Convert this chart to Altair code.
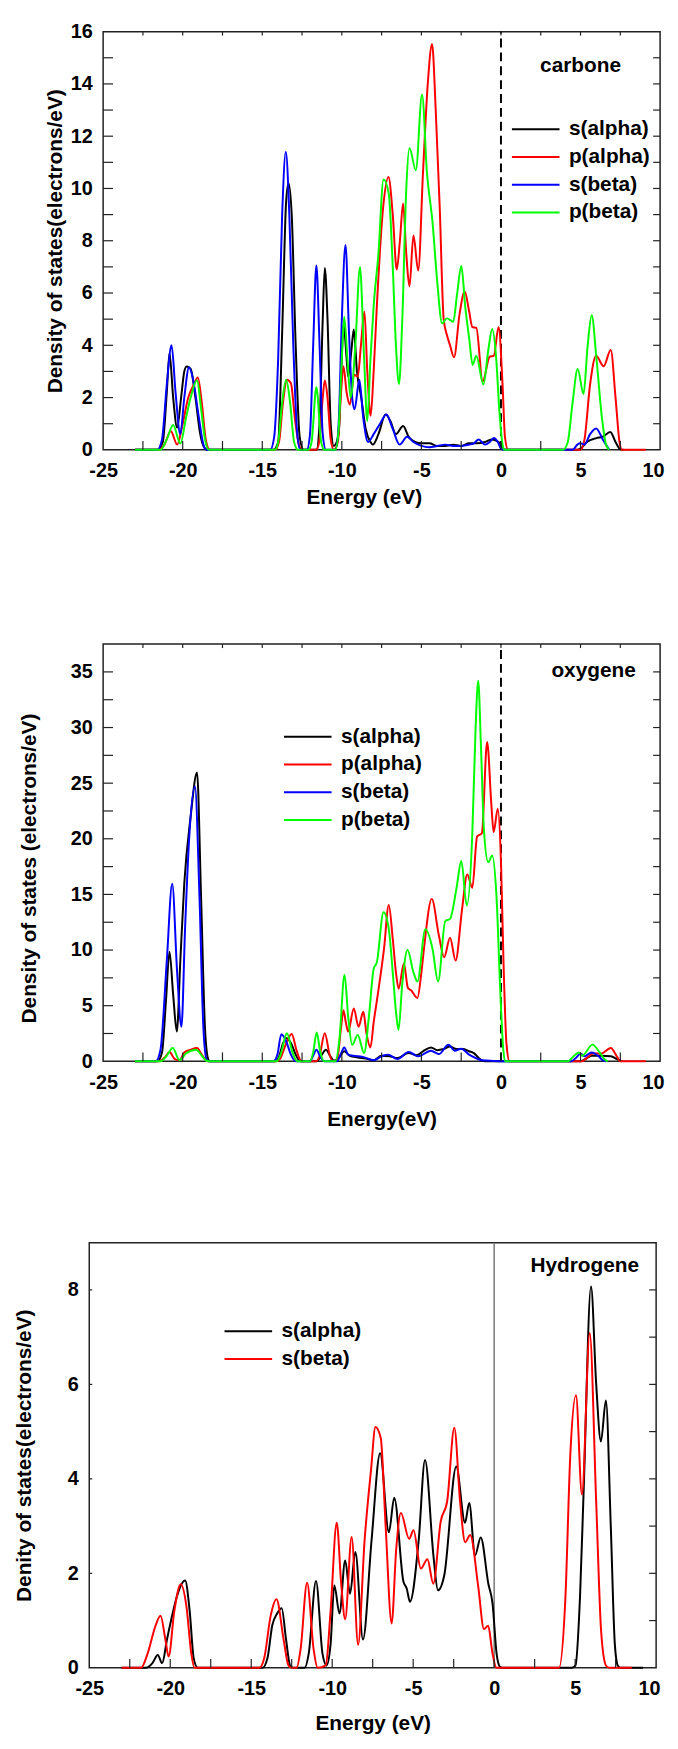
import altair as alt
import pandas as pd

# ---------------- data ----------------
X_LABELS = [-25, -20, -15, -10, -5, 0, 5, 10]
X_TICKS = [-22.5, -20, -17.5, -15, -12.5, -10, -7.5, -5, -2.5, 0, 2.5, 5, 7.5]

C_NAMES = ["s(alpha)", "p(alpha)", "s(beta)", "p(beta)"]
C_COLORS = ["#000000", "#ff0000", "#0000ff", "#00ff00"]
C_YLABELS = [0, 2, 4, 6, 8, 10, 12, 14, 16]
C_YTICKS = [1, 2, 3, 4, 5, 6, 7, 8, 9, 10, 11, 12, 13, 14, 15]

O_YLABELS = [0, 5, 10, 15, 20, 25, 30, 35]
O_YTICKS = [2.5, 5, 7.5, 10, 12.5, 15, 17.5, 20, 22.5, 25, 27.5, 30, 32.5, 35]

H_NAMES = ["s(alpha)", "s(beta)"]
H_COLORS = ["#000000", "#ff0000"]
H_YLABELS = [0, 2, 4, 6, 8]
H_YTICKS_RIGHT = [1, 2, 3, 4, 5, 6, 7, 8]
H_YTICKS_LEFT = [2, 4, 6, 8]

# carbone
C_S_ALPHA = [(-23, 0), (-21.6, 0), (-21.25, 0.3), (-21.0, 2.2), (-20.83, 3.7), (-20.6, 2.0), (-20.35, 0.85),
             (-20.1, 2.0), (-19.9, 3.0), (-19.75, 3.19), (-19.5, 3.1), (-19.2, 2.0), (-18.9, 0.6), (-18.6, 0.05),
             (-18.4, 0), (-14.3, 0), (-14.0, 0.3), (-13.75, 4.5), (-13.5, 9.5), (-13.35, 10.2), (-13.15, 9.0),
             (-12.9, 4.0), (-12.65, 0.5), (-12.4, 0), (-11.6, 0), (-11.4, 1.0), (-11.2, 5.0), (-11.07, 6.96),
             (-10.9, 5.0), (-10.7, 1.0), (-10.5, 0.15), (-10.2, 0.6), (-10.05, 2.8), (-9.89, 4.8), (-9.7, 3.5),
             (-9.6, 2.8), (-9.4, 3.8), (-9.25, 4.6), (-9.05, 3.0), (-8.78, 2.0), (-8.5, 0.8), (-8.2, 0.3),
             (-8.05, 0.2), (-7.7, 0.6), (-7.25, 1.35), (-6.95, 1.1), (-6.6, 0.6), (-6.15, 0.91), (-5.8, 0.5),
             (-5.4, 0.3), (-5.0, 0.25), (-4.5, 0.25), (-4.0, 0.15), (-3.5, 0.15), (-3.0, 0.2), (-2.5, 0.15),
             (-2.0, 0.25), (-1.5, 0.25), (-1.0, 0.3), (-0.6, 0.4), (-0.3, 0.35), (0.0, 0.2), (0.2, 0.02),
             (0.4, 0), (4.8, 0), (5.0, 0.05), (5.4, 0.3), (6.0, 0.45), (6.4, 0.5), (6.87, 0.68), (7.2, 0.3),
             (7.5, 0.02), (7.7, 0)]
C_P_ALPHA = [(-23, 0), (-21.5, 0), (-21.15, 0.2), (-20.75, 0.72), (-20.35, 0.2), (-20.0, 1.0), (-19.65, 2.0),
             (-19.3, 2.5), (-19.05, 2.77), (-18.8, 1.8), (-18.55, 0.4), (-18.3, 0), (-14.2, 0), (-13.95, 0.3),
             (-13.7, 1.8), (-13.45, 2.68), (-13.2, 2.55), (-12.95, 1.2), (-12.7, 0.2), (-12.5, 0), (-11.6, 0),
             (-11.4, 0.4), (-11.2, 2.0), (-11.07, 2.65), (-10.9, 2.0), (-10.7, 0.4), (-10.5, 0), (-10.25, 0.3),
             (-10.05, 2.2), (-9.9, 3.2), (-9.7, 2.2), (-9.5, 1.73), (-9.22, 2.87), (-9.0, 2.8), (-8.8, 4.0),
             (-8.58, 5.28), (-8.4, 3.0), (-8.19, 1.3), (-8.0, 3.0), (-7.8, 5.5), (-7.4, 9.3), (-7.07, 10.44),
             (-6.8, 9.0), (-6.55, 6.9), (-6.35, 8.0), (-6.15, 9.43), (-5.95, 7.5), (-5.75, 6.25), (-5.5, 8.2),
             (-5.2, 6.86), (-4.9, 10.6), (-4.6, 14.0), (-4.33, 15.53), (-4.1, 13.0), (-3.85, 9.3), (-3.6, 5.0),
             (-3.4, 4.4), (-3.2, 4.0), (-2.95, 3.54), (-2.6, 5.2), (-2.28, 6.06), (-2.0, 5.3), (-1.8, 4.7),
             (-1.55, 4.67), (-1.15, 2.62), (-0.7, 3.57), (-0.45, 3.6), (-0.15, 4.7), (0.1, 2.5), (0.25, 0.5),
             (0.45, 0), (5.0, 0), (5.25, 0.4), (5.6, 2.5), (5.98, 3.6), (6.45, 3.2), (6.9, 3.82), (7.2, 2.0),
             (7.45, 0.3), (7.6, 0), (9.1, 0)]
C_S_BETA = [(-23, 0), (-21.6, 0), (-21.3, 0.4), (-21.0, 2.5), (-20.7, 4.0), (-20.45, 2.2), (-20.15, 0.6),
            (-19.9, 2.0), (-19.6, 3.16), (-19.35, 2.7), (-19.0, 1.3), (-18.7, 0.2), (-18.5, 0), (-14.5, 0),
            (-14.25, 0.5), (-14.0, 3.5), (-13.75, 9.0), (-13.52, 11.4), (-13.3, 9.0), (-13.05, 4.0), (-12.8, 0.6),
            (-12.6, 0), (-12.2, 0), (-12.0, 0.6), (-11.8, 4.0), (-11.6, 7.05), (-11.4, 4.0), (-11.2, 0.6),
            (-11.0, 0), (-10.4, 0), (-10.2, 1.0), (-10.0, 5.0), (-9.77, 7.84), (-9.55, 4.5), (-9.35, 2.0),
            (-9.2, 1.55), (-8.9, 2.68), (-8.65, 1.2), (-8.35, 0.3), (-8.0, 0.6), (-7.6, 1.0), (-7.2, 1.35),
            (-6.8, 0.8), (-6.37, 0.2), (-5.9, 0.5), (-5.5, 0.3), (-5.0, 0.15), (-4.5, 0.1), (-4.0, 0.15),
            (-3.5, 0.2), (-3.0, 0.15), (-2.5, 0.15), (-2.0, 0.2), (-1.7, 0.25), (-1.4, 0.4), (-1.0, 0.2),
            (-0.7, 0.3), (-0.45, 0.45), (-0.2, 0.3), (0.0, 0.05), (0.15, 0), (4.5, 0), (4.8, 0.2), (5.0, 0.25),
            (5.25, 0.2), (5.6, 0.6), (5.98, 0.82), (6.4, 0.4), (6.8, 0)]
C_P_BETA = [(-23, 0), (-21.4, 0), (-21.0, 0.4), (-20.6, 0.95), (-20.15, 0.24), (-19.8, 1.2), (-19.5, 2.0),
            (-19.1, 2.66), (-18.85, 1.6), (-18.6, 0.4), (-18.35, 0), (-14.2, 0), (-14.0, 0.3), (-13.75, 1.8),
            (-13.5, 2.68), (-13.25, 1.8), (-13.0, 0.3), (-12.75, 0), (-12.1, 0), (-11.9, 0.3), (-11.6, 2.4),
            (-11.3, 0.3), (-11.1, 0), (-10.4, 0), (-10.2, 0.8), (-10.0, 3.5), (-9.85, 5.09), (-9.65, 3.5),
            (-9.45, 2.0), (-9.15, 4.0), (-8.86, 6.99), (-8.6, 3.5), (-8.4, 1.1), (-8.2, 3.5), (-8.0, 5.5),
            (-7.7, 7.5), (-7.38, 10.34), (-7.05, 9.8), (-6.8, 7.0), (-6.6, 4.0), (-6.41, 2.52), (-6.2, 5.0),
            (-5.95, 10.0), (-5.75, 11.55), (-5.35, 10.7), (-4.96, 13.6), (-4.65, 10.6), (-4.3, 8.7),
            (-4.0, 6.4), (-3.7, 4.84), (-3.4, 5.03), (-3.0, 4.9), (-2.75, 6.0), (-2.49, 7.03), (-2.25, 5.5),
            (-2.0, 4.27), (-1.78, 3.25), (-1.55, 3.6), (-1.1, 2.5), (-0.8, 3.8), (-0.55, 4.62), (-0.3, 3.5),
            (-0.1, 1.5), (0.1, 0.2), (0.2, 0), (3.9, 0), (4.2, 0.3), (4.5, 1.8), (4.82, 3.09), (5.19, 2.14),
            (5.45, 4.0), (5.7, 5.15), (6.0, 3.5), (6.35, 1.2), (6.6, 0.2), (6.8, 0)]

# oxygene
O_S_ALPHA = [(-23, 0), (-21.6, 0), (-21.3, 0.8), (-21.05, 5.5), (-20.83, 9.85), (-20.6, 6.0), (-20.37, 2.67),
             (-20.15, 9.0), (-19.9, 16.0), (-19.5, 22.0), (-19.1, 25.96), (-18.85, 15.0), (-18.6, 3.0),
             (-18.4, 0.2), (-18.3, 0), (-14.2, 0), (-13.95, 0.4), (-13.7, 1.6), (-13.45, 2.08), (-13.15, 1.5),
             (-12.9, 0.6), (-12.6, 0), (-11.6, 0), (-11.3, 0.5), (-11.0, 1.04), (-10.7, 0.4), (-10.5, 0.05),
             (-10.2, 0.3), (-9.85, 0.9), (-9.5, 0.5), (-9.0, 0.35), (-8.5, 0.25), (-8.0, 0.1), (-7.5, 0.5),
             (-7.0, 0.45), (-6.5, 0.3), (-5.8, 0.75), (-5.3, 0.55), (-4.9, 0.9), (-4.4, 1.25), (-4.0, 1.0),
             (-3.6, 1.1), (-3.2, 1.33), (-2.8, 1.1), (-2.4, 1.1), (-2.0, 0.9), (-1.7, 0.74), (-1.4, 0.3),
             (-1.1, 0.02), (-0.9, 0), (5.0, 0), (5.3, 0.2), (5.7, 0.5), (6.3, 0.5), (6.9, 0.45), (7.3, 0.2),
             (7.6, 0)]
O_P_ALPHA = [(-23, 0), (-21.5, 0), (-21.1, 0.4), (-20.83, 0.83), (-20.5, 0.2), (-20.2, 0.1), (-19.9, 0.8),
             (-19.5, 1.05), (-19.1, 1.19), (-18.8, 0.6), (-18.5, 0.05), (-18.3, 0), (-14.1, 0), (-13.85, 0.3),
             (-13.5, 1.6), (-13.15, 2.46), (-12.85, 1.0), (-12.6, 0.1), (-12.45, 0), (-11.6, 0), (-11.4, 0.5),
             (-11.07, 2.52), (-10.75, 0.5), (-10.55, 0), (-10.3, 0.2), (-10.05, 3.0), (-9.9, 4.6), (-9.75, 3.5),
             (-9.6, 2.67), (-9.25, 4.75), (-8.95, 3.11), (-8.65, 4.45), (-8.45, 2.5), (-8.2, 1.25), (-8.0, 3.5),
             (-7.75, 5.9), (-7.35, 10.1), (-7.05, 14.06), (-6.8, 11.0), (-6.6, 8.0), (-6.43, 6.53), (-6.1, 8.8),
             (-5.85, 6.6), (-5.65, 6.38), (-5.25, 5.7), (-5.0, 8.0), (-4.84, 10.1), (-4.35, 14.6), (-3.9, 11.3),
             (-3.57, 9.35), (-3.2, 11.1), (-2.85, 9.05), (-2.45, 13.6), (-2.12, 16.8), (-1.8, 15.6), (-1.5, 20.2),
             (-1.2, 20.5), (-0.87, 28.7), (-0.6, 23.0), (-0.46, 20.6), (-0.2, 22.7), (0.0, 18.0), (0.16, 8.9),
             (0.35, 1.5), (0.54, 0), (5.1, 0), (5.4, 0.3), (5.8, 0.7), (6.3, 0.7), (6.9, 1.2), (7.3, 0.4),
             (7.5, 0), (9.1, 0)]
O_S_BETA = [(-23, 0), (-21.7, 0), (-21.4, 1.0), (-21.0, 9.0), (-20.66, 15.96), (-20.35, 8.0), (-20.08, 3.1),
            (-19.85, 12.0), (-19.6, 19.9), (-19.23, 24.7), (-18.95, 15.0), (-18.7, 3.0), (-18.5, 0.2),
            (-18.35, 0), (-14.3, 0), (-14.05, 0.6), (-13.8, 2.43), (-13.5, 1.8), (-13.2, 0.6), (-12.9, 0),
            (-12.0, 0), (-11.8, 0.5), (-11.6, 1.04), (-11.35, 0.4), (-11.1, 0), (-10.3, 0), (-10.05, 0.7),
            (-9.85, 1.25), (-9.6, 0.6), (-9.3, 0.5), (-8.7, 0.4), (-8.0, 0.1), (-7.5, 0.45), (-7.1, 0.6),
            (-6.5, 0.2), (-5.8, 0.83), (-5.2, 0.45), (-4.4, 0.95), (-3.9, 0.65), (-3.3, 1.48), (-2.9, 0.95),
            (-2.5, 1.13), (-2.0, 0.6), (-1.6, 0.3), (-1.2, 0.1), (-0.5, 0.03), (0.0, 0), (4.4, 0), (4.7, 0.3),
            (5.0, 0.7), (5.25, 0.45), (5.7, 0.8), (6.1, 0.5), (6.4, 0.1), (6.6, 0)]
O_P_BETA = [(-23, 0), (-21.4, 0), (-21.0, 0.5), (-20.63, 1.19), (-20.2, 0.1), (-19.8, 0.7), (-19.15, 1.04),
            (-18.8, 0.5), (-18.5, 0.05), (-18.35, 0), (-14.1, 0), (-13.85, 0.6), (-13.45, 2.52), (-13.1, 0.8),
            (-12.8, 0), (-12.0, 0), (-11.8, 0.8), (-11.58, 2.58), (-11.35, 0.8), (-11.1, 0), (-10.4, 0),
            (-10.15, 2.0), (-9.83, 7.77), (-9.6, 4.0), (-9.35, 1.48), (-9.0, 2.37), (-8.6, 0.74), (-8.3, 4.0),
            (-8.0, 8.3), (-7.8, 8.9), (-7.38, 13.4), (-7.05, 11.9), (-6.8, 8.0), (-6.6, 4.5), (-6.44, 2.82),
            (-6.2, 7.0), (-5.87, 10.0), (-5.5, 8.0), (-5.25, 7.18), (-4.75, 11.87), (-4.3, 10.1), (-3.95, 7.18),
            (-3.5, 12.6), (-3.2, 12.8), (-2.8, 15.5), (-2.49, 18.0), (-2.15, 14.0), (-1.8, 20.5), (-1.6, 29.7),
            (-1.43, 34.2), (-1.25, 28.0), (-1.07, 20.8), (-0.8, 17.9), (-0.55, 18.5), (-0.28, 14.8),
            (-0.03, 5.9), (0.15, 1.0), (0.28, 0), (4.2, 0), (4.6, 0.5), (4.9, 0.8), (5.1, 0.5), (5.75, 1.5),
            (6.2, 0.8), (6.5, 0.2), (6.7, 0)]

# hydrogene
H_S_ALPHA = [(-23, 0), (-21.5, 0), (-21.1, 0.1), (-20.77, 0.27), (-20.5, 0.1), (-20.2, 0.6), (-19.9, 1.08),
             (-19.6, 1.5), (-19.08, 1.85), (-18.8, 1.2), (-18.55, 0.2), (-18.3, 0), (-14.3, 0), (-14.0, 0.2),
             (-13.7, 0.9), (-13.4, 1.15), (-13.12, 1.26), (-12.85, 0.6), (-12.6, 0.05), (-12.4, 0), (-11.7, 0),
             (-11.45, 0.3), (-11.0, 1.84), (-10.6, 0.3), (-10.35, 0.05), (-10.1, 0.5), (-9.87, 1.75),
             (-9.55, 1.15), (-9.2, 2.27), (-8.9, 1.57), (-8.57, 2.45), (-8.1, 0.6), (-7.57, 2.7), (-7.04, 4.54),
             (-6.5, 2.87), (-6.17, 3.6), (-5.6, 1.82), (-5.4, 1.68), (-5.2, 1.4), (-4.66, 2.7), (-4.27, 4.4),
             (-3.74, 2.34), (-3.47, 1.64), (-3.08, 1.96), (-2.34, 4.26), (-1.8, 3.07), (-1.54, 3.49),
             (-1.18, 2.38), (-0.83, 2.76), (-0.36, 1.78), (-0.1, 1.36), (0.15, 0.3), (0.36, 0.02), (0.5, 0),
             (4.8, 0), (5.02, 0.05), (5.3, 1.5), (5.53, 3.8), (5.98, 8.07), (6.3, 6.0), (6.59, 4.79),
             (6.9, 5.66), (7.2, 3.0), (7.45, 0.5), (7.63, 0.05), (7.8, 0), (9.2, 0)]
H_S_BETA = [(-23, 0), (-21.8, 0), (-21.4, 0.3), (-20.9, 0.9), (-20.6, 1.1), (-20.3, 0.6), (-20.1, 0.24),
            (-19.75, 1.2), (-19.35, 1.77), (-19.0, 1.3), (-18.7, 0.3), (-18.5, 0), (-14.5, 0), (-14.2, 0.2),
            (-13.8, 1.1), (-13.44, 1.45), (-13.0, 0.6), (-12.7, 0.05), (-12.5, 0), (-12.2, 0), (-11.95, 0.4),
            (-11.55, 1.8), (-11.15, 0.4), (-10.9, 0), (-10.4, 0.05), (-10.1, 1.2), (-9.72, 3.07), (-9.45, 1.8),
            (-9.2, 1.03), (-8.8, 2.77), (-8.4, 0.49), (-8.0, 2.7), (-7.6, 4.2), (-7.33, 5.1), (-7.0, 4.86),
            (-6.7, 3.0), (-6.33, 0.94), (-6.05, 2.5), (-5.76, 3.28), (-5.25, 2.73), (-4.98, 2.91), (-4.53, 2.1),
            (-4.12, 2.3), (-3.76, 1.78), (-3.3, 3.1), (-2.9, 3.53), (-2.46, 5.08), (-2.1, 3.5), (-1.79, 2.66),
            (-1.48, 2.81), (-0.98, 1.71), (-0.63, 0.82), (-0.37, 0.89), (-0.1, 0.3), (0.14, 0), (4.0, 0),
            (4.4, 1.5), (4.7, 4.5), (5.05, 5.77), (5.42, 3.67), (5.9, 7.09), (6.3, 3.5), (6.6, 0.8),
            (6.9, 0.05), (7.1, 0), (8.5, 0)]

FONT = "Liberation Sans"


def make_df(names, series):
    rows = [(n, e, v) for n, pts in zip(names, series) for e, v in pts]
    return pd.DataFrame(rows, columns=["series", "energy", "dos"])


ONE = pd.DataFrame({"k": [0]})


def panel(df, names, colors, ymax, ylabels, yticks_left, yticks_right, ytitle, xtitle, elem, elem_pos,
          W, H, x_range, y_range, ytp, xtp, yoff, legend_xy, zero_dash, zero_color, top_ticks=True,
          ytitle_y=None, xtitle_x=None, left_len=10):
    xs = alt.Scale(domain=[-25, 10], range=x_range, nice=False, zero=False)
    ys = alt.Scale(domain=[0, ymax], range=y_range, nice=False, zero=False)
    x_left = x_range[0]
    y_bot, y_top = y_range
    x_axis_kw = dict(values=X_LABELS, title=xtitle, labelExpr="toString(datum.value)",
                     domain=False, ticks=False, tickSize=0, grid=False, labelFlush=False,
                     labelOverlap=False, labelPadding=11, labelFont=FONT, labelFontSize=20,
                     labelFontWeight="bold", labelColor="black", titleFont=FONT, titleFontSize=21,
                     titleFontWeight="bold", titleColor="black", titlePadding=xtp,
                     labelAlign={"condition": {"test": "datum.value == 10", "value": "right"},
                                 "value": "center"},
                     labelOffset={"condition": {"test": "datum.value == 10", "value": 4}, "value": 0})
    if xtitle_x is not None:
        x_axis_kw["titleX"] = xtitle_x
    y_axis_kw = dict(values=ylabels, title=ytitle, domain=False, ticks=False, tickSize=0, grid=False,
                     labelFlush=False, labelOverlap=False, labelPadding=11, labelFont=FONT,
                     labelFontSize=20, labelFontWeight="bold", labelColor="black", titleFont=FONT,
                     titleFontSize=21, titleFontWeight="bold", titleColor="black", titlePadding=ytp,
                     offset=yoff)
    if ytitle_y is not None:
        y_axis_kw["titleY"] = ytitle_y
    xa = alt.Axis(**x_axis_kw)
    ya = alt.Axis(**y_axis_kw)

    lines = alt.Chart(df).mark_line(interpolate="monotone", strokeWidth=2, strokeJoin="round").encode(
        x=alt.X("energy:Q", scale=xs, axis=xa),
        y=alt.Y("dos:Q", scale=ys, axis=ya),
        color=alt.Color("series:N", sort=names, scale=alt.Scale(domain=names, range=colors),
                        legend=alt.Legend(orient="none", legendX=legend_xy[0], legendY=legend_xy[1],
                                          title=None, symbolType="M-3,0H3", symbolSize=256,
                                          symbolStrokeWidth=2, labelFont=FONT, labelFontSize=21,
                                          labelFontWeight="bold", labelColor="black", labelOffset=23,
                                          rowPadding=6, labelLimit=300)),
    )
    frame = alt.Chart(ONE).mark_rect(fill="transparent", stroke="#222222", strokeWidth=1.5).encode(
        x=alt.XDatum(-25, scale=xs, axis=xa), x2=alt.datum(10),
        y=alt.YDatum(0, scale=ys, axis=ya), y2=alt.datum(ymax))
    zero_kw = dict(color=zero_color, strokeWidth=2 if zero_dash else 1.5)
    if zero_dash:
        zero_kw["strokeDash"] = [9, 5]
    zero = alt.Chart(ONE).mark_rule(**zero_kw).encode(
        x=alt.XDatum(0, scale=xs, axis=xa), y=alt.YDatum(0, scale=ys, axis=ya), y2=alt.datum(ymax))
    tick_kw = dict(color="#222222", strokeWidth=1.2)
    xt = pd.DataFrame({"v": X_TICKS})
    bottom = alt.Chart(xt).mark_rule(**tick_kw).encode(
        x=alt.X("v:Q", scale=xs, axis=xa), y=alt.value(y_bot), y2=alt.value(y_bot - 9))
    layers = [frame, zero, lines, bottom]
    if top_ticks:
        layers.append(alt.Chart(xt).mark_rule(**tick_kw).encode(
            x=alt.X("v:Q", scale=xs, axis=xa), y=alt.value(y_top), y2=alt.value(y_top + 4)))
    layers.append(alt.Chart(pd.DataFrame({"v": yticks_left})).mark_rule(**tick_kw).encode(
        y=alt.Y("v:Q", scale=ys, axis=ya), x=alt.value(x_left), x2=alt.value(x_left + left_len)))
    layers.append(alt.Chart(pd.DataFrame({"v": yticks_right})).mark_rule(**tick_kw).encode(
        y=alt.Y("v:Q", scale=ys, axis=ya), x=alt.value(x_range[1]), x2=alt.value(x_range[1] - 7)))
    label = alt.Chart(ONE).mark_text(font=FONT, fontSize=21, fontWeight="bold", color="black",
                                     align="center", baseline="middle", text=elem).encode(
        x=alt.XDatum(elem_pos[0], scale=xs, axis=xa), y=alt.YDatum(elem_pos[1], scale=ys, axis=ya))
    layers.append(label)
    return alt.layer(*layers).properties(width=W, height=H)


p1 = panel(make_df(C_NAMES, [C_S_ALPHA, C_P_ALPHA, C_S_BETA, C_P_BETA]), C_NAMES, C_COLORS, 16,
           C_YLABELS, C_YTICKS, C_YTICKS, "Density of states(electrons/eV)", "Energy (eV)", "carbone",
           (5.0, 14.7), 562, 422, [0, 562], [422, 0], 5, 6, 0, (426, 88), True, "black",
           xtitle_x=263)
p2 = panel(make_df(C_NAMES, [O_S_ALPHA, O_P_ALPHA, O_S_BETA, O_P_BETA]), C_NAMES, C_COLORS, 37.5,
           O_YLABELS, O_YTICKS, O_YTICKS, "Density of states (electrons/eV)", "Energy(eV)", "oxygene",
           (5.82, 35.1), 562, 434, [0, 562], [434, 13], 31, 17, 0, (196, 96), True, "black",
           ytitle_y=239)
p3 = panel(make_df(H_NAMES, [H_S_ALPHA, H_S_BETA]), H_NAMES, H_COLORS, 9,
           H_YLABELS, H_YTICKS_LEFT, H_YTICKS_RIGHT, "Denity of states(electrons/eV)", "Energy (eV)",
           "Hydrogene", (5.59, 8.51), 558, 429, [-14, 558], [429, 0], 33, 14, 14, (136, 79), False,
           "#777777", top_ticks=False, left_len=3)

chart = alt.vconcat(p1, p2, p3, spacing=183, bounds="flush").resolve_scale(
    x="independent", y="independent", color="independent").resolve_legend(
    color="independent").properties(
    padding={"left": 5, "top": 6, "right": 0, "bottom": 0}).configure_view(strokeWidth=0)

chart.save("out.html", embed_options={"renderer": "svg", "actions": False})
